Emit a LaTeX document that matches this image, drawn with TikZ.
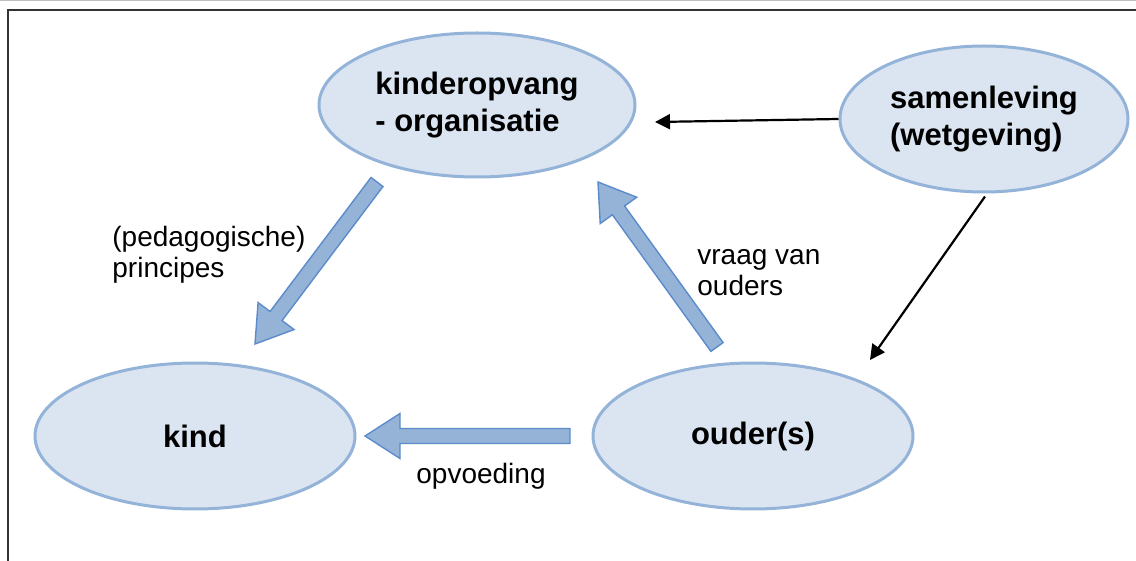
\documentclass[tikz,border=0pt]{standalone}
\usepackage{fontspec}
\setmainfont{Liberation Sans}
\usetikzlibrary{shapes.geometric,arrows.meta,calc}
\definecolor{ellfill}{HTML}{DBE4F1}
\definecolor{elldraw}{HTML}{94B3D8}
\definecolor{barfill}{HTML}{95B3D7}
\definecolor{bardraw}{HTML}{5B8BCB}
\newcommand\blockarrow[2]{%
  \coordinate (ba-h) at ($(#2)!17.5pt!(#1)$);
  \draw[bigarrow] ($(#1)!3.75pt!90:(#2)$) -- ($(ba-h)!3.75pt!-90:(#1)$)
     -- ($(ba-h)!11.25pt!-90:(#1)$) -- (#2) -- ($(ba-h)!11.25pt!90:(#1)$)
     -- ($(ba-h)!3.75pt!90:(#1)$) -- ($(#1)!3.75pt!-90:(#2)$) -- cycle;}
\begin{document}
\begin{tikzpicture}[x=0.5pt,y=-0.5pt,
  ell/.style={ellipse, draw=elldraw, fill=ellfill, line width=1.5pt, inner sep=0pt,
              align=left, font=\bfseries\fontsize{15.5}{18.5}\selectfont},
  lbl/.style={align=left, inner sep=0pt, font=\fontsize{14}{15.5}\selectfont},
  bigarrow/.style={fill=barfill, draw=bardraw, line width=0.7pt, line join=miter},
  thin/.style={-{Triangle[length=7.5pt,width=7.5pt]}, line width=1.1pt, black},
  frame/.style={draw=black!80, line width=0.75pt}]
\useasboundingbox (0,0) rectangle (1136,561);
\draw[black!25, line width=0.5pt] (0,0.5) -- (1136,0.5);
\draw[frame] (8,561) -- (8,10) -- (1136,10);

\node[ell, minimum width=158pt, minimum height=72pt] (org) at (477,105) {kinderopvang\\- organisatie};
\node[ell, minimum width=144pt, minimum height=73pt] (sam) at (984,119) {samenleving\\(wetgeving)};
\node[ell, minimum width=160pt, minimum height=73pt] (kind) at (195,436) {kind};
\node[ell, minimum width=160pt, minimum height=73pt] (oud) at (753,436) {ouder(s)};

\coordinate (t1) at (655,122);
\coordinate (t2) at (870,360);
\draw[thin] (sam.west) -- (t1);
\draw[thin] (sam.south) ++(1,3) -- (t2);

\coordinate (a1s) at (377,182); \coordinate (a1e) at (255,344);
\coordinate (a2s) at (717,347); \coordinate (a2e) at (598,182);
\coordinate (a3s) at (570,436); \coordinate (a3e) at (365,436);
\blockarrow{a1s}{a1e}
\blockarrow{a2s}{a2e}
\blockarrow{a3s}{a3e}

\node[lbl, anchor=west] (l1) at (112,255) {(pedagogische)\\principes};
\node[lbl, anchor=west] (l2) at (697,273) {vraag van\\ouders};
\node[lbl, anchor=base] (l3) at (481,483) {opvoeding};
\end{tikzpicture}
\end{document}
